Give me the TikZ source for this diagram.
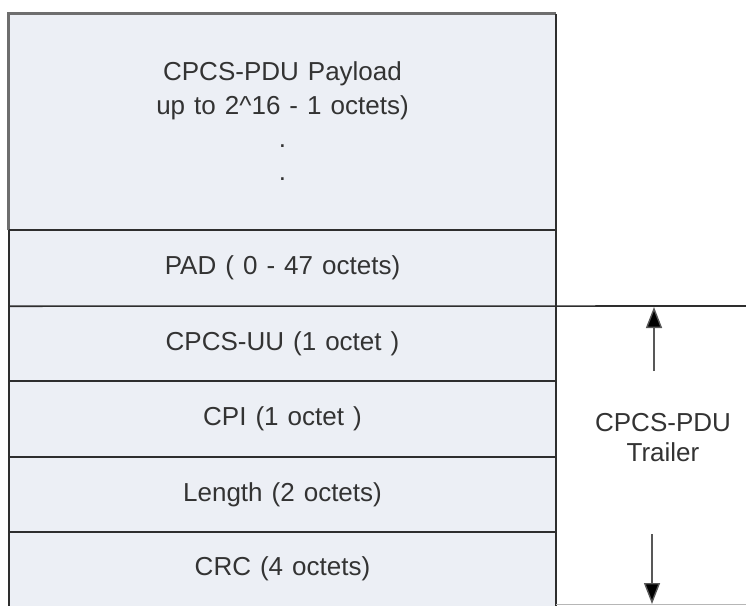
\documentclass[tikz,border=0pt]{standalone}
\usepackage{fontspec}
\setmainfont{Liberation Sans}[WordSpace=1.25]
\usetikzlibrary{arrows.meta}
\definecolor{cellfill}{HTML}{ECEFF5}
\definecolor{rule}{HTML}{2E2E2E}
\definecolor{frame}{HTML}{6E6E6E}
\definecolor{ink}{HTML}{333333}
\tikzset{
  field/.style={fill=cellfill, draw=none, minimum width=547pt, inner sep=0pt,
    text=ink, font=\fontsize{26}{34}\selectfont, align=center},
  sep/.style={draw=rule, line width=1.6pt},
  label/.style={text=ink, font=\fontsize{26}{30}\selectfont, align=center},
  brace/.style={draw=frame!80!black, line width=1.4pt,
    -{Triangle[length=21pt,width=16pt,fill=black]}}
}
\begin{document}
\begin{tikzpicture}[x=1pt,y=-1pt]
\useasboundingbox (0,0) rectangle (746,606);
% field stack
\node[field, minimum height=216pt] (payload) at (282.5,122) {};
\node[text=ink, font=\fontsize{26}{34}\selectfont, align=center] (ptext) at (282.5,91)
  {CPCS-PDU Payload\\up to 2\^{}16 - 1 octets)};
\node[text=ink, font=\fontsize{26}{34}\selectfont] (dotA) at (282.5,146) {.};
\node[text=ink, font=\fontsize{26}{34}\selectfont] (dotB) at (282.5,179) {.};
\node[field, minimum height=76pt] (pad) at (282.5,268) {PAD ( 0 - 47 octets)};
\node[field, minimum height=75pt] (uu) at (282.5,343.5) {CPCS-UU (1 octet )};
\node[field, minimum height=76pt] (cpi) at (282.5,419) {CPI (1 octet )};
\node[field, minimum height=75pt] (len) at (282.5,494.5) {Length (2 octets)};
\node[field, minimum height=74pt] (crc) at (282.5,569) {CRC (4 octets)};
% outer frame of the payload
\draw[draw=frame, line width=3pt] (payload.south west) -- (payload.north west) -- (payload.north east);
\draw[draw=rule, line width=2.2pt] (payload.north east) -- (crc.south east);
\draw[draw=rule, line width=2pt] (pad.north west) -- (crc.south west);
% separators
\draw[sep] (payload.south west) -- (payload.south east);
\coordinate (trailtop) at (746,306);
\draw[sep] (pad.south west) -- (trailtop);
\draw[sep] (uu.south west) -- (uu.south east);
\draw[sep] (cpi.south west) -- (cpi.south east);
\draw[sep] (len.south west) -- (len.south east);
\coordinate (trailbot) at (746,604.5);
\draw[draw=frame!50, line width=1pt] (crc.south east |- trailbot) -- (trailbot);
% trailer annotation
\node[label] (trailer) at (663,438) {CPCS-PDU\\Trailer};
\coordinate (upTail) at (654,371);
\coordinate (upTip) at (654,307);
\coordinate (dnTail) at (652,534);
\coordinate (dnTip) at (652,604);
\draw[brace] (upTail) -- (upTip);
\draw[brace] (dnTail) -- (dnTip);
\end{tikzpicture}
\end{document}
